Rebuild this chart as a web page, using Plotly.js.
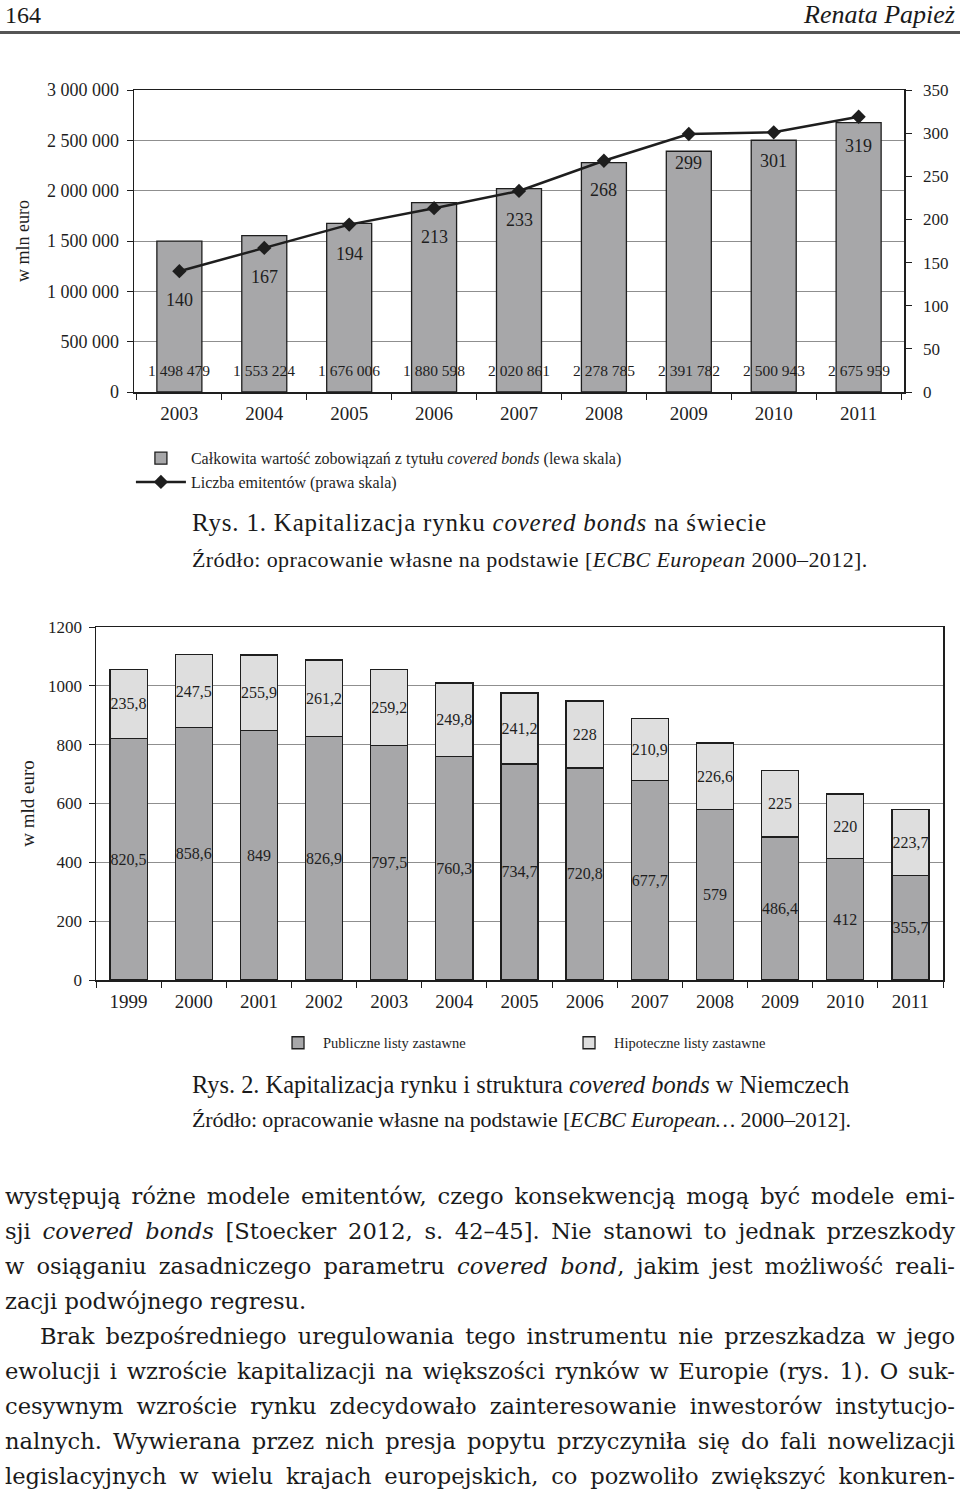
<!DOCTYPE html>
<html>
<head>
<meta charset="utf-8">
<script src="https://cdn.plot.ly/plotly-3.0.1.min.js"></script>
<style>
  body { margin: 0; background: #fff; }
  #page { position: relative; width: 960px; height: 1494px; overflow: hidden;
          font-family: "Liberation Serif", serif; color: #1a1a1a; }
  .abs { position: absolute; white-space: nowrap; }
  .cap { left: 192px; font-size: 25px; line-height: 30px; }
  .src { left: 192px; font-size: 22px; line-height: 28px; }
  .para { left: 5px; width: 950px; font-family: "DejaVu Serif", serif; font-size: 22.6px; line-height: 35px; }
  .para div { text-align: justify; text-align-last: justify; white-space: nowrap; }
  .para div.last { text-align-last: left; }
</style>
</head>
<body>
<div id="page">
  <div class="abs" style="left:5px; top:0px; font-size:24px; line-height:30px;">164</div>
  <div class="abs" style="right:5px; top:0px; font-size:26px; line-height:30px; font-style:italic;">Renata Papież</div>
  <div class="abs" style="left:0; top:31px; width:960px; height:3px; background:#555;"></div>

  <div id="chart1" class="abs" style="left:0; top:60px; width:960px; height:440px;"></div>

  <div class="abs cap" style="top:508px; letter-spacing:0.8px;">Rys. 1. Kapitalizacja rynku <i>covered bonds</i> na świecie</div>
  <div class="abs src" style="top:546px; letter-spacing:0.4px;">Źródło: opracowanie własne na podstawie [<i>ECBC European</i> 2000–2012].</div>

  <div id="chart2" class="abs" style="left:0; top:600px; width:960px; height:460px;"></div>

  <div class="abs cap" style="top:1070px; font-size:24.4px;">Rys. 2. Kapitalizacja rynku i struktura <i>covered bonds</i> w Niemczech</div>
  <div class="abs src" style="top:1106px; letter-spacing:-0.15px;">Źródło: opracowanie własne na podstawie [<i>ECBC European…</i> 2000–2012].</div>

  <div class="abs para" style="top:1179px;">
    <div>występują różne modele emitentów, czego konsekwencją mogą być modele emi-</div>
    <div>sji <i>covered bonds</i> [Stoecker 2012, s. 42–45]. Nie stanowi to jednak przeszkody</div>
    <div>w osiąganiu zasadniczego parametru <i>covered bond</i>, jakim jest możliwość reali-</div>
    <div class="last">zacji podwójnego regresu.</div>
    <div style="padding-left:35px;">Brak bezpośredniego uregulowania tego instrumentu nie przeszkadza w jego</div>
    <div>ewolucji i wzroście kapitalizacji na większości rynków w Europie (rys. 1). O suk-</div>
    <div>cesywnym wzroście rynku zdecydowało zainteresowanie inwestorów instytucjo-</div>
    <div>nalnych. Wywierana przez nich presja popytu przyczyniła się do fali nowelizacji</div>
    <div>legislacyjnych w wielu krajach europejskich, co pozwoliło zwiększyć konkuren-</div>
  </div>
</div>

<script>
// Rys. 1 - world market
var years1 = ["2003", "2004", "2005", "2006", "2007", "2008", "2009", "2010", "2011"];
var totalValue = [1498479, 1553224, 1676006, 1880598, 2020861, 2278785, 2391782, 2500943, 2675959];
var issuers = [140, 167, 194, 213, 233, 268, 299, 301, 319];
var leftTicks = [0, 500000, 1000000, 1500000, 2000000, 2500000, 3000000];

// Rys. 2 - Germany
var years2 = ["1999", "2000", "2001", "2002", "2003", "2004", "2005", "2006", "2007", "2008", "2009", "2010", "2011"];
var publicPfandbriefe = [820.5, 858.6, 849, 826.9, 797.5, 760.3, 734.7, 720.8, 677.7, 579, 486.4, 412, 355.7];
var mortgagePfandbriefe = [235.8, 247.5, 255.9, 261.2, 259.2, 249.8, 241.2, 228, 210.9, 226.6, 225, 220, 223.7];

var serif = "Liberation Serif, Times New Roman, serif";
var ink = "#1e1e1e";

function spaced(v) {
  return String(v).replace(/\B(?=(\d{3})+(?!\d))/g, " ");
}
function comma(v) {
  return String(v).replace(".", ",");
}

// ---------- chart 1 ----------
var barTrace = {
  x: years1,
  y: totalValue,
  type: "bar",
  name: "Całkowita wartość zobowiązań z tytułu <i>covered bonds</i> (lewa skala)",
  width: 0.53,
  marker: { color: "#a7a7a9", line: { color: ink, width: 1.3 } },
  hoverinfo: "none"
};

var lineTrace = {
  x: years1,
  y: issuers,
  xaxis: "x",
  yaxis: "y2",
  type: "scatter",
  mode: "lines+markers",
  name: "Liczba emitentów (prawa skala)",
  line: { color: ink, width: 2.5 },
  marker: { symbol: "diamond", size: 11, color: ink },
  hoverinfo: "none"
};

var notes1 = [];
years1.forEach(function (yr, i) {
  notes1.push({
    x: i, y: 0, xref: "x", yref: "y",
    text: spaced(totalValue[i]), showarrow: false,
    yanchor: "middle", yshift: 22,
    font: { family: serif, size: 15.5, color: ink }
  });
  notes1.push({
    x: i, y: issuers[i], xref: "x", yref: "y2",
    text: String(issuers[i]), showarrow: false,
    yanchor: "middle", yshift: -29,
    font: { family: serif, size: 18, color: ink }
  });
});

var layout1 = {
  width: 960,
  height: 440,
  margin: { l: 134, r: 56, t: 30, b: 108, autoexpand: false },
  paper_bgcolor: "rgba(0,0,0,0)",
  plot_bgcolor: "#fff",
  font: { family: serif, color: ink },
  showlegend: true,
  legend: {
    orientation: "v", x: -0.004, xanchor: "left", y: -0.163, yanchor: "top",
    font: { family: serif, size: 16, color: ink },
    itemwidth: 50, bgcolor: "rgba(0,0,0,0)", tracegroupgap: 0, traceorder: "normal"
  },
  xaxis: {
    type: "category",
    categoryorder: "array", categoryarray: years1,
    tickson: "boundaries", ticks: "outside", ticklen: 6, tickcolor: ink,
    ticklabelstandoff: 4,
    showline: true, linecolor: ink, linewidth: 1.5, mirror: true,
    showgrid: false,
    tickfont: { family: serif, size: 19, color: ink }
  },
  yaxis: {
    range: [0, 3000000],
    tickvals: leftTicks, ticktext: leftTicks.map(spaced),
    ticks: "outside", ticklen: 6, tickcolor: ink, ticklabelstandoff: 4,
    showline: true, linecolor: ink, linewidth: 1.5,
    gridcolor: "#8f8f8f", gridwidth: 1, zeroline: false,
    tickfont: { family: serif, size: 18, color: ink },
    title: { text: "w mln euro", font: { family: serif, size: 18, color: ink }, standoff: 12 }
  },
  yaxis2: {
    overlaying: "y", side: "right", anchor: "x",
    range: [0, 350], dtick: 50,
    ticks: "outside", ticklen: 6, tickcolor: ink, ticklabelstandoff: 8,
    showline: true, linecolor: ink, linewidth: 1.5,
    showgrid: false, zeroline: false,
    tickfont: { family: serif, size: 17, color: ink }
  },
  annotations: notes1
};

Plotly.newPlot("chart1", [barTrace, lineTrace], layout1, { displayModeBar: false, staticPlot: true });

// ---------- chart 2 ----------
var publicTrace = {
  x: years2,
  y: publicPfandbriefe,
  type: "bar",
  name: "Publiczne listy zastawne",
  width: 0.57,
  marker: { color: "#a7a7a9", line: { color: ink, width: 1.3 } },
  text: publicPfandbriefe.map(comma),
  textposition: "inside", insidetextanchor: "middle", textangle: 0, constraintext: "none",
  textfont: { family: serif, size: 16, color: ink },
  hoverinfo: "none"
};

var mortgageTrace = {
  x: years2,
  y: mortgagePfandbriefe,
  type: "bar",
  name: "Hipoteczne listy zastawne",
  width: 0.57,
  marker: { color: "#dedede", line: { color: ink, width: 1.3 } },
  text: mortgagePfandbriefe.map(comma),
  textposition: "inside", insidetextanchor: "middle", textangle: 0, constraintext: "none",
  textfont: { family: serif, size: 16, color: ink },
  hoverinfo: "none"
};

var layout2 = {
  width: 960,
  height: 460,
  margin: { l: 96, r: 17, t: 27, b: 80, autoexpand: false },
  paper_bgcolor: "rgba(0,0,0,0)",
  plot_bgcolor: "#fff",
  barmode: "stack",
  font: { family: serif, color: ink },
  showlegend: true,
  legend: {
    orientation: "h", x: 0.209, xanchor: "left", y: -0.178, yanchor: "middle",
    font: { family: serif, size: 14.5, color: ink }, traceorder: "normal",
    itemwidth: 40, entrywidth: 236, entrywidthmode: "pixels", bgcolor: "rgba(0,0,0,0)"
  },
  xaxis: {
    type: "category",
    tickson: "boundaries", ticks: "outside", ticklen: 6, tickcolor: ink,
    ticklabelstandoff: 4,
    showline: true, linecolor: ink, linewidth: 1.5, mirror: true,
    showgrid: false,
    tickfont: { family: serif, size: 19, color: ink }
  },
  yaxis: {
    range: [0, 1200], dtick: 200,
    ticks: "outside", ticklen: 6, tickcolor: ink, ticklabelstandoff: 3,
    showline: true, linecolor: ink, linewidth: 1.5, mirror: true,
    gridcolor: "#8f8f8f", gridwidth: 1, zeroline: false,
    tickfont: { family: serif, size: 17, color: ink },
    title: { text: "w mld euro", font: { family: serif, size: 19, color: ink }, standoff: 8 }
  }
};

Plotly.newPlot("chart2", [publicTrace, mortgageTrace], layout2, { displayModeBar: false, staticPlot: true });
</script>
</body>
</html>
